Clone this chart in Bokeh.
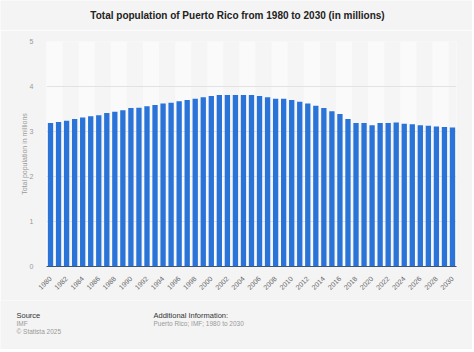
from bokeh.plotting import figure
from bokeh.layouts import column, row
from bokeh.models import Range1d, Label, FixedTicker
from bokeh.embed import file_html
from bokeh.resources import INLINE
import math

years = list(range(1980, 2031))
population = [3.19, 3.21, 3.24, 3.28, 3.31, 3.34, 3.36, 3.41, 3.44, 3.47,
              3.52, 3.53, 3.56, 3.59, 3.62, 3.64, 3.67, 3.70, 3.73, 3.76,
              3.79, 3.81, 3.81, 3.81, 3.81, 3.81, 3.79, 3.76, 3.73, 3.73,
              3.70, 3.66, 3.62, 3.57, 3.52, 3.45, 3.39, 3.28, 3.19, 3.19,
              3.14, 3.19, 3.19, 3.20, 3.17, 3.16, 3.14, 3.13, 3.11, 3.10, 3.09]
tick_years = list(range(1980, 2031, 2))
band_years = [y + 0.5 for y in range(1980, 2030, 4)]

title = "Total population of Puerto Rico from 1980 to 2030 (in millions)"
y_label = "Total population in millions"
FONT = "Liberation Sans"
BG = "#f4f4f4"
W = 472
FL, FR = 46, 456


def text_panel(height, top):
    f = figure(width=W, height=height, output_backend="svg", toolbar_location=None,
               x_range=Range1d(0, W), y_range=Range1d(top + height, top),
               x_axis_location=None, y_axis_location=None,
               min_border_left=0, min_border_right=0,
               min_border_top=0, min_border_bottom=0)
    f.border_fill_color = BG
    f.background_fill_color = BG
    f.outline_line_color = None
    f.grid.grid_line_color = None
    return f


def lab(f, text, x, y, size, color, style="normal", align="left"):
    f.add_layout(Label(x=x, y=y, text=text, text_font=FONT, text_font_size=size,
                       text_color=color, text_font_style=style,
                       text_align=align, text_baseline="middle"))


head = text_panel(30, 0)
lab(head, title, 237, 15, "10px", "#222222", style="bold", align="center")

p = figure(width=W, height=270, output_backend="svg", toolbar_location=None,
           x_range=Range1d(1979.5, 2030.5), y_range=Range1d(0, 5),
           min_border_left=FL, min_border_right=W - FR, min_border_top=11, min_border_bottom=34)
p.border_fill_color = BG
p.background_fill_color = "#f5f5f5"
p.outline_line_color = None

p.vbar(x=band_years, top=5, width=2, fill_color="#fafafa", line_color=None, level="image")
p.vbar(x=years, top=population, width=0.66, fill_color="#2a73d9", line_color=None)

p.xgrid.grid_line_color = None
p.ygrid.grid_line_color = "#e2e2e2"
p.ygrid.ticker = FixedTicker(ticks=[1, 2, 3, 4, 5])

p.xaxis.ticker = FixedTicker(ticks=tick_years)
p.xaxis.major_label_orientation = math.pi / 4
p.xaxis.major_label_text_font = FONT
p.xaxis.major_label_text_font_size = "7px"
p.xaxis.major_label_text_color = "#666666"
p.xaxis.major_tick_line_color = None
p.xaxis.minor_tick_line_color = None
p.xaxis.axis_line_color = "#3d5670"
p.xaxis.major_label_standoff = 5

p.yaxis.ticker = FixedTicker(ticks=[0, 1, 2, 3, 4, 5])
p.yaxis.major_label_text_font = FONT
p.yaxis.major_label_text_font_size = "7px"
p.yaxis.major_label_text_color = "#999999"
p.yaxis.major_tick_line_color = None
p.yaxis.minor_tick_line_color = None
p.yaxis.axis_line_color = None
p.yaxis.major_label_standoff = 7
p.yaxis.axis_label = y_label
p.yaxis.axis_label_text_font = FONT
p.yaxis.axis_label_text_font_size = "7px"
p.yaxis.axis_label_text_font_style = "normal"
p.yaxis.axis_label_text_color = "#999999"
p.yaxis.axis_label_standoff = -1

foot = text_panel(49, 300)
lab(foot, "Source", 16, 315, "7.5px", "#333333")
lab(foot, "IMF", 16, 323, "6.5px", "#999999")
lab(foot, "\u00a9 Statista 2025", 16, 331, "6.5px", "#999999")
lab(foot, "Additional Information:", 153, 315, "7.5px", "#333333")
lab(foot, "Puerto Rico; IMF; 1980 to 2030", 153, 323, "6.5px", "#999999")

layout = column(row(head, spacing=0), p, row(foot, spacing=0), spacing=0)
open("out.html", "w").write(file_html(layout, INLINE))
